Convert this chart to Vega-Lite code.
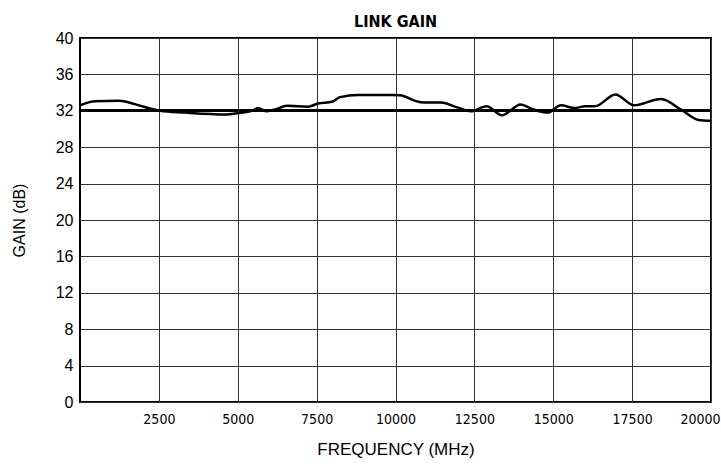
{
  "$schema": "https://vega.github.io/schema/vega-lite/v6.json",
  "width": 631,
  "height": 364,
  "autosize": {"type": "none"},
  "padding": {"left": 80, "top": 38, "right": 10, "bottom": 66},
  "background": "white",
  "title": {"text": "LINK GAIN", "font": "'DejaVu Sans Condensed', 'Liberation Sans', sans-serif", "fontSize": 16, "fontWeight": "bold", "color": "black", "offset": 0, "anchor": "middle"},
  "config": {
    "view": {"stroke": "black", "strokeWidth": 2},
    "axis": {"gridColor": "#333", "gridWidth": 1, "gridOpacity": 1, "ticks": false, "domain": false, "labelColor": "black", "titleColor": "black", "titleFontWeight": "normal", "labelOverlap": false}
  },
  "data": {"values": [
    {"f": 0, "g": 32.6},
    {"f": 475, "g": 33.05},
    {"f": 1204, "g": 33.1},
    {"f": 1521, "g": 32.95},
    {"f": 1965, "g": 32.5},
    {"f": 2536, "g": 32.0},
    {"f": 3328, "g": 31.8},
    {"f": 4596, "g": 31.6},
    {"f": 5008, "g": 31.75},
    {"f": 5452, "g": 32.0},
    {"f": 5642, "g": 32.3},
    {"f": 5895, "g": 31.95},
    {"f": 6181, "g": 32.15},
    {"f": 6561, "g": 32.55},
    {"f": 7227, "g": 32.45},
    {"f": 7544, "g": 32.8},
    {"f": 7987, "g": 33.0},
    {"f": 8241, "g": 33.5},
    {"f": 8811, "g": 33.75},
    {"f": 9889, "g": 33.75},
    {"f": 10143, "g": 33.7},
    {"f": 10792, "g": 32.95},
    {"f": 11442, "g": 32.9},
    {"f": 11981, "g": 32.35},
    {"f": 12393, "g": 31.95},
    {"f": 12887, "g": 32.5},
    {"f": 13376, "g": 31.5},
    {"f": 13962, "g": 32.7},
    {"f": 14326, "g": 32.2},
    {"f": 14821, "g": 31.8},
    {"f": 15246, "g": 32.6},
    {"f": 15680, "g": 32.3},
    {"f": 16006, "g": 32.5},
    {"f": 16323, "g": 32.5},
    {"f": 16970, "g": 33.8},
    {"f": 17559, "g": 32.6},
    {"f": 18415, "g": 33.3},
    {"f": 19065, "g": 32.1},
    {"f": 19604, "g": 31.0},
    {"f": 20000, "g": 30.9}
  ]},
  "layer": [
    {
      "mark": {"type": "line", "color": "black", "strokeWidth": 2.5, "interpolate": "monotone"},
      "encoding": {
        "x": {"field": "f", "type": "quantitative", "scale": {"domain": [0, 20000], "nice": false, "zero": false},
          "axis": {"values": [2500, 5000, 7500, 10000, 12500, 15000, 17500, 20000], "tickCount": 20, "title": "FREQUENCY (MHz)", "labelFont": "'DejaVu Sans Condensed', 'Liberation Sans', sans-serif", "labelFontSize": 14, "labelPadding": 10, "labelFlush": true, "labelFlushOffset": 9, "titleFont": "Liberation Sans", "titleFontSize": 17, "titlePadding": 15, "format": "d"}},
        "y": {"field": "g", "type": "quantitative", "scale": {"domain": [0, 40], "nice": false},
          "axis": {"values": [0, 4, 8, 12, 16, 20, 24, 28, 32, 36, 40], "tickCount": 20, "title": "GAIN (dB)", "labelFont": "Liberation Sans", "labelFontSize": 16, "labelPadding": 7, "titleFont": "Liberation Sans", "titleFontSize": 16, "titlePadding": 28}}
      }
    },
    {
      "mark": {"type": "rule", "color": "black", "strokeWidth": 2},
      "encoding": {"y": {"datum": 32}}
    }
  ]
}
